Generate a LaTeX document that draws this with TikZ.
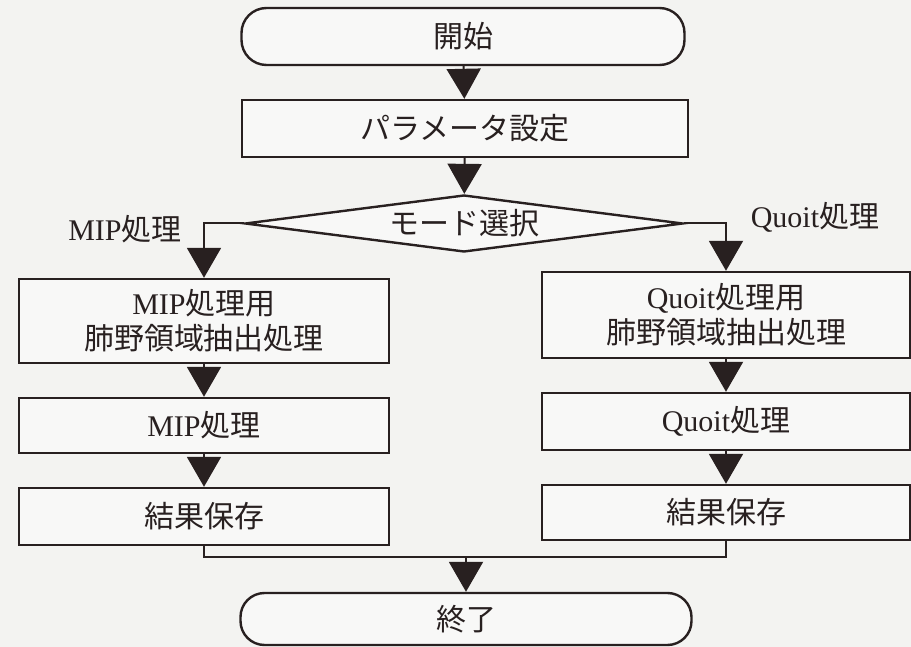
\documentclass[tikz,border=0pt]{standalone}
\usepackage{fontspec}
\setmainfont{Liberation Serif}
\newfontfamily\jpf{Noto Sans CJK JP}
\usetikzlibrary{arrows.meta,shapes.geometric}
\definecolor{ink}{RGB}{40,32,32}
\definecolor{bgc}{RGB}{243,243,241}
\definecolor{boxfill}{RGB}{248,248,247}
\begin{document}
\begin{tikzpicture}[x=1pt,y=-1pt,
  box/.style={draw=ink, line width=2.4pt, fill=boxfill, inner sep=0pt, align=center,
    font=\jpf\fontsize{30}{35}\selectfont, text=ink},
  term/.style={box, rounded corners=25pt},
  lab/.style={font=\jpf\fontsize{30}{35}\selectfont, text=ink, inner sep=0pt},
  flow/.style={draw=ink, line width=2pt, -{Triangle[length=30pt,width=34pt]}},
  link/.style={draw=ink, line width=2pt}]
\fill[bgc] (0,0) rectangle (911,647);
\useasboundingbox (0,0) rectangle (911,647);

\node[term, minimum width=443pt, minimum height=57pt] (start) at (463,36.5) {開始};
\node[box, minimum width=446pt, minimum height=57pt] (param) at (465,128.5) {パラメータ設定};
\node[box, diamond, aspect=7.7, minimum width=438pt, minimum height=57pt] (mode) at (464,223.5) {モード選択};

\node[box, minimum width=370pt, minimum height=84pt] (l1) at (204,321) {{\rmfamily MIP}処理用\\肺野領域抽出処理};
\node[box, minimum width=370pt, minimum height=55pt] (l2) at (204,425.5) {{\rmfamily MIP}処理};
\node[box, minimum width=370pt, minimum height=57pt] (l3) at (204,516.5) {結果保存};

\node[box, minimum width=368pt, minimum height=86pt] (r1) at (726,315) {{\rmfamily Quoit}処理用\\肺野領域抽出処理};
\node[box, minimum width=368pt, minimum height=57pt] (r2) at (726,421.5) {{\rmfamily Quoit}処理};
\node[box, minimum width=368pt, minimum height=55pt] (r3) at (726,512.5) {結果保存};

\node[term, minimum width=451pt, minimum height=52pt, rounded corners=24pt] (end) at (466,619) {終了};

\node[lab] (labl) at (125,229) {{\rmfamily MIP}処理};
\node[lab] (labr) at (815,217) {{\rmfamily Quoit}処理};

\coordinate (m) at (466,557);

\draw[flow] (start) -- (param);
\draw[flow] (param) -- (mode);
\draw[flow] (mode.west) -| (l1.north);
\draw[flow] (mode.east) -| (r1.north);
\draw[flow] (l1) -- (l2);
\draw[flow] (l2) -- (l3);
\draw[flow] (r1) -- (r2);
\draw[flow] (r2) -- (r3);
\draw[link] (l3.south) |- (m) -| (r3.south);
\draw[flow] (m) -- (end.north);
\end{tikzpicture}
\end{document}
